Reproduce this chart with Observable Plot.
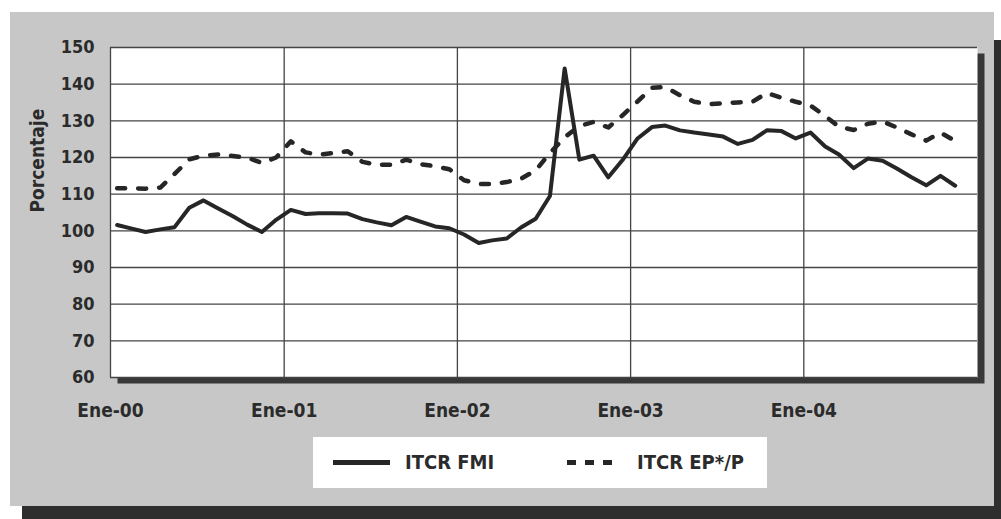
<!DOCTYPE html>
<html>
<head>
<meta charset="utf-8">
<script src="https://cdn.jsdelivr.net/npm/d3@7"></script>
<script src="https://cdn.jsdelivr.net/npm/@observablehq/plot@0.6"></script>
<style>
  html, body { margin: 0; padding: 0; background: #ffffff; }
  #wrap { position: relative; width: 1001px; height: 519px; overflow: hidden; background: #ffffff; }
  #shadow { position: absolute; left: 22px; top: 40px; width: 979px; height: 479px; background: #2e2e2e; }
  #panel { position: absolute; left: 10px; top: 12px; width: 984px; height: 494px; background: #c7c7c7; }
  #chart { position: absolute; left: 0; top: 0; }
  #legend { position: absolute; left: 313px; top: 437px; width: 454px; height: 51px; background: #ffffff;
    font-family: "DejaVu Sans Condensed", "DejaVu Sans", sans-serif;
    font-weight: bold; font-size: 20px; color: #2b2b2b; }
  #legend .t { position: absolute; top: 11px; line-height: 28px; white-space: nowrap; }
  #legend .s { position: absolute; height: 5px; background: #262626; }
</style>
</head>
<body>
<div id="wrap">
  <div id="shadow"></div>
  <div id="panel"></div>
  <div id="chart"></div>
  <div id="legend">
    <div class="s" style="left:20px;top:23px;width:57px;"></div>
    <div class="t" style="left:92px;">ITCR FMI</div>
    <div class="s" style="left:254px;top:23px;width:9px;"></div>
    <div class="s" style="left:272px;top:23px;width:9px;"></div>
    <div class="s" style="left:290px;top:23px;width:9px;"></div>
    <div class="t" style="left:324px;">ITCR EP*/P</div>
  </div>
</div>
<script>
// Monthly series, Jan 2000 – Nov 2004 (index 0 = Ene-00)
const startYear = 2000;
const itcrFMI = [
  101.6, 100.6, 99.7, 100.4, 101.0, 106.3, 108.3, 106.1, 104.0, 101.7, 99.7, 103.0,
  105.7, 104.6, 104.8, 104.8, 104.7, 103.2, 102.3, 101.5, 103.8, 102.5, 101.2, 100.7,
  99.0, 96.7, 97.4, 97.9, 100.9, 103.3, 109.5, 144.3, 119.4, 120.5, 114.6, 119.3,
  125.1, 128.3, 128.7, 127.4, 126.8, 126.3, 125.7, 123.7, 124.8, 127.4, 127.2, 125.2,
  126.8, 123.0, 120.8, 117.1, 119.7, 119.1, 117.0, 114.6, 112.4, 115.0, 112.3
];
const itcrEP = [
  111.6, 111.6, 111.5, 111.8, 115.5, 119.5, 120.5, 120.8, 120.4, 120.0, 118.5, 120.0,
  124.4, 121.4, 120.8, 121.2, 121.7, 118.8, 118.0, 118.0, 119.4, 118.2, 117.6, 116.8,
  113.8, 112.8, 112.8, 113.3, 114.2, 116.5, 121.2, 125.5, 128.6, 129.7, 128.2, 131.5,
  135.2, 139.0, 139.2, 137.0, 135.2, 134.5, 134.8, 135.0, 135.2, 137.6, 136.3, 135.2,
  134.2, 131.3, 128.4, 127.5, 129.2, 129.8, 128.2, 126.3, 124.6, 126.8, 124.5
];
const yTicks = [60, 70, 80, 90, 100, 110, 120, 130, 140, 150];
const xTickYears = [2000, 2001, 2002, 2003, 2004];
const xTickLabels = ["Ene-00", "Ene-01", "Ene-02", "Ene-03", "Ene-04"];
const yLabel = "Porcentaje";

const monthDate = i => new Date(Date.UTC(startYear, i, 15));
const fmiRows = itcrFMI.map((v, i) => ({date: monthDate(i), value: v}));
const epRows = itcrEP.map((v, i) => ({date: monthDate(i), value: v}));
const xTicks = xTickYears.map(y => new Date(Date.UTC(y, 0, 1)));
const labelFor = d => xTickLabels[xTickYears.indexOf(d.getUTCFullYear())];

const tickFont = '"DejaVu Sans Condensed", "DejaVu Sans", sans-serif';

const chart = Plot.plot({
  width: 1001,
  height: 519,
  marginLeft: 110,
  marginRight: 24,
  marginTop: 47,
  marginBottom: 142,
  style: {background: "transparent", fontFamily: tickFont, fontWeight: "bold", color: "#2b2b2b", overflow: "visible"},
  x: {type: "utc", domain: [new Date(Date.UTC(2000, 0, 1)), new Date(Date.UTC(2005, 0, 1))]},
  y: {domain: [60, 150]},
  marks: [
    Plot.frame({fill: "#383838", dx: 7, dy: 6}),
    Plot.frame({fill: "#ffffff"}),
    Plot.gridY(yTicks, {stroke: "#444444", strokeOpacity: 1, strokeWidth: 1.3}),
    Plot.gridX(xTicks, {stroke: "#444444", strokeOpacity: 1, strokeWidth: 1.3}),
    Plot.line(epRows, {x: "date", y: "value", stroke: "#262626", strokeWidth: 4.5, strokeDasharray: "8,13"}),
    Plot.line(fmiRows, {x: "date", y: "value", stroke: "#262626", strokeWidth: 4}),
    Plot.axisY(yTicks, {tickSize: 0, tickPadding: 16, fontSize: 18, label: null, fill: "#2b2b2b"}),
    Plot.axisX(xTicks, {tickSize: 0, tickPadding: 26, fontSize: 19, label: null, tickFormat: labelFor, fill: "#2b2b2b"}),
    Plot.text([yLabel], {frameAnchor: "left", dx: -73, rotate: -90, fontSize: 19, fontWeight: "bold", fill: "#2b2b2b"})
  ]
});
document.getElementById("chart").appendChild(chart);
</script>
</body>
</html>
